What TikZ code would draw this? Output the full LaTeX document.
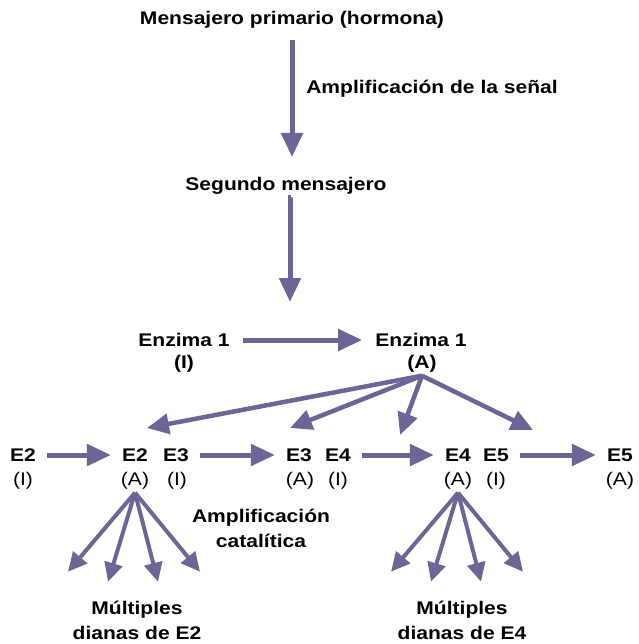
\documentclass[tikz,border=0pt]{standalone}
\usepackage{fontspec}
\setmainfont{Liberation Sans}[FakeStretch=1.15]
\usetikzlibrary{arrows.meta,calc}

\definecolor{flecha}{RGB}{108,101,150}

\tikzset{
  txt/.style={font=\fontsize{18.3}{25}\selectfont\bfseries, inner sep=3pt},
  lbl/.style={font=\fontsize{18.3}{25}\selectfont, inner sep=3pt},
  bigarrow/.style={draw=flecha, line width=5pt, -{Triangle[length=24pt,width=21pt]}},
  midarrow/.style={draw=flecha, line width=4.5pt, -{Triangle[length=22pt,width=20pt]}},
  fanarrow/.style={draw=flecha, line width=4pt, -{Triangle[length=19pt,width=18pt]}}
}

\begin{document}
\begin{tikzpicture}[x=1pt,y=-1pt]
    \useasboundingbox (0,0) rectangle (638,644);

    % Mensajeros
    \node[txt] (hormona) at (292,20) {Mensajero primario (hormona)};
    \node[txt] (ampl)    at (432,89) {Amplificación de la señal};
    \node[txt] (segundo) at (286,186) {Segundo mensajero};
    \coordinate (act) at (290,302);

    % Enzima 1
    \node[txt] (enzI)  at (184,340) {Enzima 1};
    \node[txt] (enzIs) at (184,364) {(I)};
    \node[txt] (enzA)  at (421,340) {Enzima 1};
    \node[txt] (enzAs) at (422,364) {(A)};

    % Fila de enzimas E2 ... E5
    \node[txt] (e2i) at (23,455)  {E2};  \node[lbl] (e2is) at (23,481)  {(I)};
    \node[txt] (e2a) at (135,455) {E2};  \node[lbl] (e2as) at (135,481) {(A)};
    \node[txt] (e3i) at (176,455) {E3};  \node[lbl] (e3is) at (177,481) {(I)};
    \node[txt] (e3a) at (299,455) {E3};  \node[lbl] (e3as) at (300,481) {(A)};
    \node[txt] (e4i) at (338,455) {E4};  \node[lbl] (e4is) at (338,481) {(I)};
    \node[txt] (e4a) at (458,455) {E4};  \node[lbl] (e4as) at (458,481) {(A)};
    \node[txt] (e5i) at (496,455) {E5};  \node[lbl] (e5is) at (496,481) {(I)};
    \node[txt] (e5a) at (620,455) {E5};  \node[lbl] (e5as) at (620,481) {(A)};

    % Textos de abajo
    \node[txt, align=center] (amplcat) at (261,528) {Amplificación\\catalítica};
    \node[txt, align=center] (dianasE2) at (137,620) {Múltiples\\dianas de E2};
    \node[txt, align=center] (dianasE4) at (462,620) {Múltiples\\dianas de E4};

    % Puntas de las flechas de Enzima 1 (A)
    \coordinate (t2) at (147,428);
    \coordinate (t3) at (290,428);
    \coordinate (t4) at (400,435);
    \coordinate (t5) at (533,430);

    % Flechas verticales
    \draw[bigarrow, shorten <=8pt] (hormona.south) -- (hormona.south |- 0,157);
    \draw[bigarrow, shorten <=5pt] (segundo.south) -- (segundo.south -| act) -- (act);

    % Enzima 1 (I) -> (A)
    \draw[bigarrow, shorten <=10pt, shorten >=10pt] (enzI.east) -- (enzA.west);

    % Enzima 1 (A) hacia E2 ... E5
    \foreach \t in {t2,t3,t4,t5}
      \draw[midarrow] (enzAs.south) -- (\t);

    % Activaciones en la fila
    \draw[bigarrow, shorten <=8pt, shorten >=8pt] (e2i.east) -- (e2a.west);
    \draw[bigarrow, shorten <=8pt, shorten >=8pt] (e3i.east) -- (e3a.west);
    \draw[bigarrow, shorten <=8pt, shorten >=8pt] (e4i.east) -- (e4a.west);
    \draw[bigarrow, shorten <=8pt, shorten >=8pt] (e5i.east) -- (e5a.west);

    % Abanicos de dianas
    \foreach \dx/\dy in {-67/79,-27/89,23/89,65/79} {
      \draw[fanarrow] (e2as.south) -- ++(\dx,\dy);
      \draw[fanarrow] (e4as.south) -- ++(\dx,\dy);
    }
\end{tikzpicture}
\end{document}
